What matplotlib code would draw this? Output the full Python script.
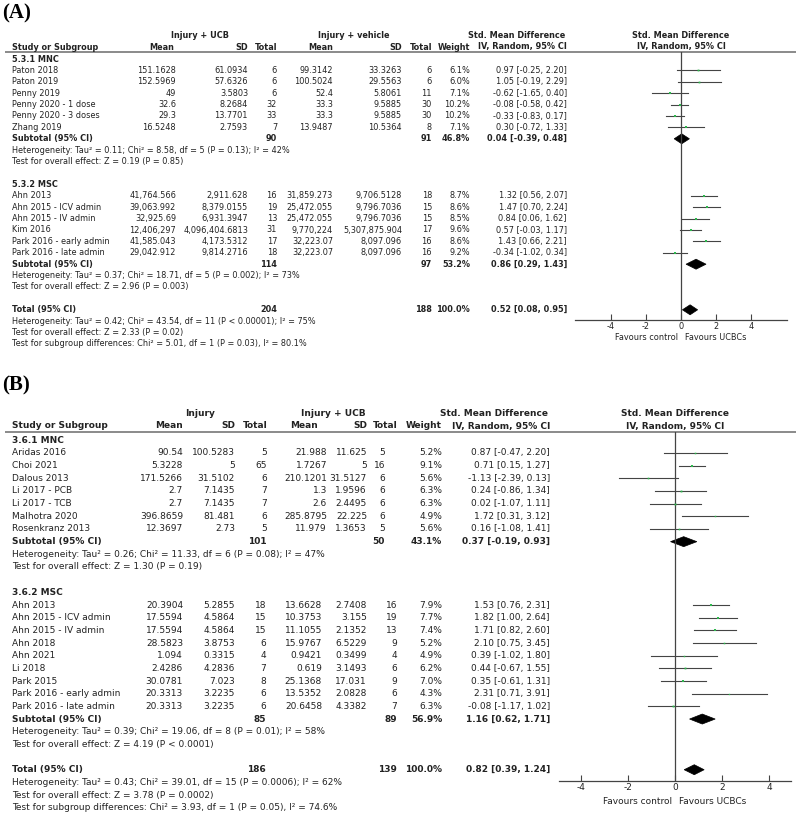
import matplotlib
matplotlib.use("Agg")
import matplotlib.pyplot as plt
from matplotlib.patches import Polygon

plt.rcParams["font.family"] = ["DejaVu Sans"]

W, H = 800, 815
TXT = "#222222"
LINE = "#444444"
RULE = "#8a8a8a"
GREEN = "#2db84d"

# ---------------- panel A data ----------------
a_mnc_names = ["Paton 2018", "Paton 2019", "Penny 2019", "Penny 2020 - 1 dose",
               "Penny 2020 - 3 doses", "Zhang 2019"]
a_mnc_m1 = ["151.1628", "152.5969", "49", "32.6", "29.3", "16.5248"]
a_mnc_sd1 = ["61.0934", "57.6326", "3.5803", "8.2684", "13.7701", "2.7593"]
a_mnc_n1 = [6, 6, 6, 32, 33, 7]
a_mnc_m2 = ["99.3142", "100.5024", "52.4", "33.3", "33.3", "13.9487"]
a_mnc_sd2 = ["33.3263", "29.5563", "5.8061", "9.5885", "9.5885", "10.5364"]
a_mnc_n2 = [6, 6, 11, 30, 30, 8]
a_mnc_w = [6.1, 6.0, 7.1, 10.2, 10.2, 7.1]
a_mnc_smd = [0.97, 1.05, -0.62, -0.08, -0.33, 0.30]
a_mnc_lo = [-0.25, -0.19, -1.65, -0.58, -0.83, -0.72]
a_mnc_hi = [2.20, 2.29, 0.40, 0.42, 0.17, 1.33]
a_mnc_sub = [90, 91, 46.8, 0.04, -0.39, 0.48]
a_mnc_notes = ["Heterogeneity: Tau² = 0.11; Chi² = 8.58, df = 5 (P = 0.13); I² = 42%",
               "Test for overall effect: Z = 0.19 (P = 0.85)"]

a_msc_names = ["Ahn 2013", "Ahn 2015 - ICV admin", "Ahn 2015 - IV admin", "Kim 2016",
               "Park 2016 - early admin", "Park 2016 - late admin"]
a_msc_m1 = ["41,764.566", "39,063.992", "32,925.69", "12,406,297", "41,585.043", "29,042.912"]
a_msc_sd1 = ["2,911.628", "8,379.0155", "6,931.3947", "4,096,404.6813", "4,173.5312", "9,814.2716"]
a_msc_n1 = [16, 19, 13, 31, 17, 18]
a_msc_m2 = ["31,859.273", "25,472.055", "25,472.055", "9,770,224", "32,223.07", "32,223.07"]
a_msc_sd2 = ["9,706.5128", "9,796.7036", "9,796.7036", "5,307,875.904", "8,097.096", "8,097.096"]
a_msc_n2 = [18, 15, 15, 17, 16, 16]
a_msc_w = [8.7, 8.6, 8.5, 9.6, 8.6, 9.2]
a_msc_smd = [1.32, 1.47, 0.84, 0.57, 1.43, -0.34]
a_msc_lo = [0.56, 0.70, 0.06, -0.03, 0.66, -1.02]
a_msc_hi = [2.07, 2.24, 1.62, 1.17, 2.21, 0.34]
a_msc_sub = [114, 97, 53.2, 0.86, 0.29, 1.43]
a_msc_notes = ["Heterogeneity: Tau² = 0.37; Chi² = 18.71, df = 5 (P = 0.002); I² = 73%",
               "Test for overall effect: Z = 2.96 (P = 0.003)"]

a_total = [204, 188, 100.0, 0.52, 0.08, 0.95]
a_total_notes = ["Heterogeneity: Tau² = 0.42; Chi² = 43.54, df = 11 (P < 0.00001); I² = 75%",
                 "Test for overall effect: Z = 2.33 (P = 0.02)",
                 "Test for subgroup differences: Chi² = 5.01, df = 1 (P = 0.03), I² = 80.1%"]

# ---------------- panel B data ----------------
b_mnc_names = ["Aridas 2016", "Choi 2021", "Dalous 2013", "Li 2017 - PCB", "Li 2017 - TCB",
               "Malhotra 2020", "Rosenkranz 2013"]
b_mnc_m1 = ["90.54", "5.3228", "171.5266", "2.7", "2.7", "396.8659", "12.3697"]
b_mnc_sd1 = ["100.5283", "5", "31.5102", "7.1435", "7.1435", "81.481", "2.73"]
b_mnc_n1 = [5, 65, 6, 7, 7, 6, 5]
b_mnc_m2 = ["21.988", "1.7267", "210.1201", "1.3", "2.6", "285.8795", "11.979"]
b_mnc_sd2 = ["11.625", "5", "31.5127", "1.9596", "2.4495", "22.225", "1.3653"]
b_mnc_n2 = [5, 16, 6, 6, 6, 6, 5]
b_mnc_w = [5.2, 9.1, 5.6, 6.3, 6.3, 4.9, 5.6]
b_mnc_smd = [0.87, 0.71, -1.13, 0.24, 0.02, 1.72, 0.16]
b_mnc_lo = [-0.47, 0.15, -2.39, -0.86, -1.07, 0.31, -1.08]
b_mnc_hi = [2.20, 1.27, 0.13, 1.34, 1.11, 3.12, 1.41]
b_mnc_sub = [101, 50, 43.1, 0.37, -0.19, 0.93]
b_mnc_notes = ["Heterogeneity: Tau² = 0.26; Chi² = 11.33, df = 6 (P = 0.08); I² = 47%",
               "Test for overall effect: Z = 1.30 (P = 0.19)"]

b_msc_names = ["Ahn 2013", "Ahn 2015 - ICV admin", "Ahn 2015 - IV admin", "Ahn 2018", "Ahn 2021",
               "Li 2018", "Park 2015", "Park 2016 - early admin", "Park 2016 - late admin"]
b_msc_m1 = ["20.3904", "17.5594", "17.5594", "28.5823", "1.094", "2.4286", "30.0781", "20.3313", "20.3313"]
b_msc_sd1 = ["5.2855", "4.5864", "4.5864", "3.8753", "0.3315", "4.2836", "7.023", "3.2235", "3.2235"]
b_msc_n1 = [18, 15, 15, 6, 4, 7, 8, 6, 6]
b_msc_m2 = ["13.6628", "10.3753", "11.1055", "15.9767", "0.9421", "0.619", "25.1368", "13.5352", "20.6458"]
b_msc_sd2 = ["2.7408", "3.155", "2.1352", "6.5229", "0.3499", "3.1493", "17.031", "2.0828", "4.3382"]
b_msc_n2 = [16, 19, 13, 9, 4, 6, 9, 6, 7]
b_msc_w = [7.9, 7.7, 7.4, 5.2, 4.9, 6.2, 7.0, 4.3, 6.3]
b_msc_smd = [1.53, 1.82, 1.71, 2.10, 0.39, 0.44, 0.35, 2.31, -0.08]
b_msc_lo = [0.76, 1.00, 0.82, 0.75, -1.02, -0.67, -0.61, 0.71, -1.17]
b_msc_hi = [2.31, 2.64, 2.60, 3.45, 1.80, 1.55, 1.31, 3.91, 1.02]
b_msc_sub = [85, 89, 56.9, 1.16, 0.62, 1.71]
b_msc_notes = ["Heterogeneity: Tau² = 0.39; Chi² = 19.06, df = 8 (P = 0.01); I² = 58%",
               "Test for overall effect: Z = 4.19 (P < 0.0001)"]

b_total = [186, 139, 100.0, 0.82, 0.39, 1.24]
b_total_notes = ["Heterogeneity: Tau² = 0.43; Chi² = 39.01, df = 15 (P = 0.0006); I² = 62%",
                 "Test for overall effect: Z = 3.78 (P = 0.0002)",
                 "Test for subgroup differences: Chi² = 3.93, df = 1 (P = 0.05), I² = 74.6%"]

ticks = [-4, -2, 0, 2, 4]

groups_a = [
    ("5.3.1 MNC", a_mnc_names, a_mnc_m1, a_mnc_sd1, a_mnc_n1, a_mnc_m2, a_mnc_sd2, a_mnc_n2,
     a_mnc_w, a_mnc_smd, a_mnc_lo, a_mnc_hi, a_mnc_sub, a_mnc_notes),
    ("5.3.2 MSC", a_msc_names, a_msc_m1, a_msc_sd1, a_msc_n1, a_msc_m2, a_msc_sd2, a_msc_n2,
     a_msc_w, a_msc_smd, a_msc_lo, a_msc_hi, a_msc_sub, a_msc_notes),
]
groups_b = [
    ("3.6.1 MNC", b_mnc_names, b_mnc_m1, b_mnc_sd1, b_mnc_n1, b_mnc_m2, b_mnc_sd2, b_mnc_n2,
     b_mnc_w, b_mnc_smd, b_mnc_lo, b_mnc_hi, b_mnc_sub, b_mnc_notes),
    ("3.6.2 MSC", b_msc_names, b_msc_m1, b_msc_sd1, b_msc_n1, b_msc_m2, b_msc_sd2, b_msc_n2,
     b_msc_w, b_msc_smd, b_msc_lo, b_msc_hi, b_msc_sub, b_msc_notes),
]

# layout (pixel positions)
lay_a = dict(label="(A)", label_y=13, fs=5.9, h1=35, h2=47, rule=52, y0=59, step=11.4,
             top=[("Injury + UCB", 200, "center"), ("Injury + vehicle", 354, "center"),
                  ("Std. Mean Difference", 565, "right")],
             cols=[dict(m1=176, sd1=248, n1=277, m2=333, sd2=402, n2=432)] * 2,
             hcols=dict(m1=174, sd1=248, n1=277, m2=333, sd2=402, n2=432),
             w=470, ci=567, zero=681, ppu=17.5, rng=6.05, axis_y=320, tick_y=1.5, fav_y=337)
lay_b = dict(label="(B)", label_y=385, fs=6.5, h1=414, h2=426, rule=432, y0=440.3, step=12.67,
             top=[("Injury", 200, "center"), ("Injury + UCB", 333, "center"),
                  ("Std. Mean Difference", 548, "right")],
             cols=[dict(m1=183, sd1=235, n1=267, m2=327, sd2=367, n2=385),
                   dict(m1=183, sd1=235, n1=266, m2=322, sd2=367, n2=397)],
             hcols=dict(m1=183, sd1=235, n1=268, m2=318, sd2=367, n2=398),
             w=442, ci=550, zero=675, ppu=23.5, rng=4.95, axis_y=781, tick_y=1.5, fav_y=801)

fig = plt.figure(figsize=(W / 100, H / 100), dpi=100)
tab = fig.add_axes([0, 0, 1, 1])
tab.set_xlim(0, W)
tab.set_ylim(H, 0)
tab.axis("off")


def put(x, y, s, fs, ha="right", bold=False):
    tab.text(x, y, s, fontsize=fs, ha=ha, va="center", color=TXT,
             fontweight="bold" if bold else "normal")


def ci_text(est, lo, hi):
    return f"{est:.2f} [{lo:.2f}, {hi:.2f}]"


def diamond(ax, y, est, lo, hi, h=5):
    ax.add_patch(Polygon([(lo, y), (est, y - h), (hi, y), (est, y + h)],
                         closed=True, facecolor="black", edgecolor="black", lw=0.5))


def draw_panel(lay, groups, total, total_notes):
    fs = lay["fs"]
    row = lambda r: lay["y0"] + r * lay["step"]
    tab.text(2, lay["label_y"], lay["label"], fontsize=15, fontweight="bold",
             family="Liberation Serif", va="center", ha="left", color="black")

    # header
    for s, x, ha in lay["top"]:
        put(x, lay["h1"], s, fs, ha=ha, bold=True)
    put(lay["zero"], lay["h1"], "Std. Mean Difference", fs, ha="center", bold=True)
    hc = lay["hcols"]
    put(12, lay["h2"], "Study or Subgroup", fs, ha="left", bold=True)
    for key, s in [("m1", "Mean"), ("sd1", "SD"), ("n1", "Total"),
                   ("m2", "Mean"), ("sd2", "SD"), ("n2", "Total")]:
        put(hc[key], lay["h2"], s, fs, bold=True)
    put(lay["w"], lay["h2"], "Weight", fs, bold=True)
    put(lay["ci"], lay["h2"], "IV, Random, 95% CI", fs, bold=True)
    put(lay["zero"], lay["h2"], "IV, Random, 95% CI", fs, ha="center", bold=True)
    tab.plot([5, 796], [lay["rule"], lay["rule"]], color=RULE, lw=1.4, solid_capstyle="butt")

    # forest axes
    x0, ppu, rng, yb, yt = lay["zero"], lay["ppu"], lay["rng"], lay["axis_y"], lay["rule"]
    fax = fig.add_axes([(x0 - rng * ppu) / W, 1 - yb / H, 2 * rng * ppu / W, (yb - yt) / H])
    fax.set_xlim(-rng, rng)
    fax.set_ylim(yb, yt)
    fax.patch.set_visible(False)
    for side in ["top", "left", "right"]:
        fax.spines[side].set_visible(False)
    fax.spines["bottom"].set_color(LINE)
    fax.spines["bottom"].set_linewidth(0.9)
    fax.set_yticks([])
    fax.set_xticks(ticks)
    fax.set_xticklabels([str(t) for t in ticks])
    fax.tick_params(axis="x", direction="in", length=4, width=0.8, color=LINE,
                    labelsize=fs, labelcolor=TXT, pad=lay["tick_y"])
    fax.axvline(0, color=LINE, lw=0.9)
    put(x0 - 3, lay["fav_y"], "Favours control", fs, ha="right")
    put(x0 + 4, lay["fav_y"], "Favours UCBCs", fs, ha="left")

    r = 0
    for gi, g in enumerate(groups):
        (gname, names, m1, sd1, n1, m2, sd2, n2, wts, smd, lo, hi, sub, notes) = g
        c = lay["cols"][gi]
        put(12, row(r), gname, fs, ha="left", bold=True)
        r += 1
        for i in range(len(names)):
            y = row(r)
            put(12, y, names[i], fs, ha="left")
            put(c["m1"], y, m1[i], fs)
            put(c["sd1"], y, sd1[i], fs)
            put(c["n1"], y, str(n1[i]), fs)
            put(c["m2"], y, m2[i], fs)
            put(c["sd2"], y, sd2[i], fs)
            put(c["n2"], y, str(n2[i]), fs)
            put(lay["w"], y, f"{wts[i]:.1f}%", fs)
            put(lay["ci"], y, ci_text(smd[i], lo[i], hi[i]), fs)
            fax.plot([lo[i], hi[i]], [y, y], color=LINE, lw=0.8)
            fax.plot(smd[i], y, "s", color=GREEN, ms=wts[i] * 0.21, mew=0, zorder=3)
            r += 1
        y = row(r)
        put(12, y, "Subtotal (95% CI)", fs, ha="left", bold=True)
        put(c["n1"], y, str(sub[0]), fs, bold=True)
        put(c["n2"], y, str(sub[1]), fs, bold=True)
        put(lay["w"], y, f"{sub[2]:.1f}%", fs, bold=True)
        put(lay["ci"], y, ci_text(sub[3], sub[4], sub[5]), fs, bold=True)
        diamond(fax, y, sub[3], sub[4], sub[5])
        r += 1
        for s in notes:
            put(12, row(r), s, fs, ha="left")
            r += 1
        r += 1

    c = lay["cols"][-1]
    y = row(r)
    put(12, y, "Total (95% CI)", fs, ha="left", bold=True)
    put(c["n1"], y, str(total[0]), fs, bold=True)
    put(c["n2"], y, str(total[1]), fs, bold=True)
    put(lay["w"], y, f"{total[2]:.1f}%", fs, bold=True)
    put(lay["ci"], y, ci_text(total[3], total[4], total[5]), fs, bold=True)
    diamond(fax, y, total[3], total[4], total[5])
    r += 1
    for s in total_notes:
        put(12, row(r), s, fs, ha="left")
        r += 1


draw_panel(lay_a, groups_a, a_total, a_total_notes)
draw_panel(lay_b, groups_b, b_total, b_total_notes)

fig.savefig("out.png", dpi=100, facecolor="white")
